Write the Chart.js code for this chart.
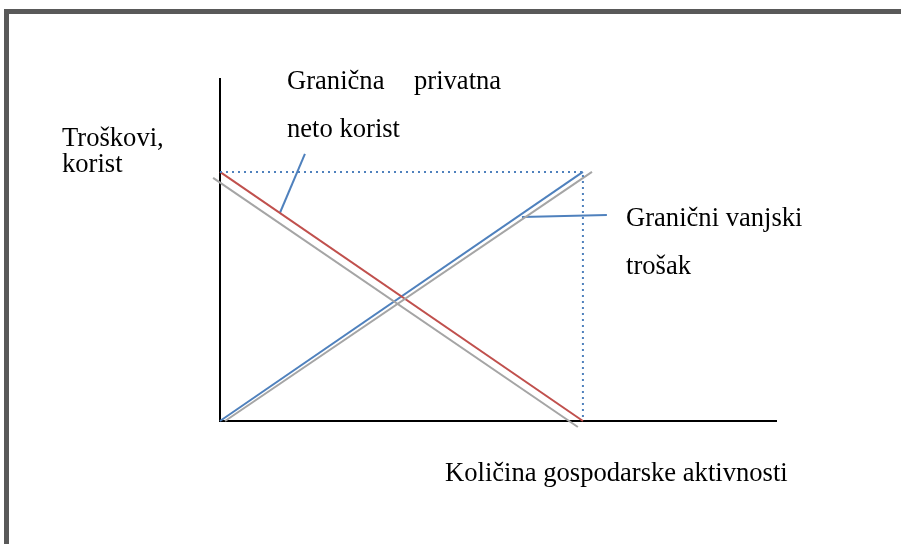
<!DOCTYPE html>
<html lang="hr">
<head>
    <meta charset="UTF-8">
    <title>Granični troškovi i korist</title>
    <script src="https://cdn.jsdelivr.net/npm/chart.js"></script>
    <style>
        body {
            margin: 0;
            width: 901px;
            height: 544px;
            overflow: hidden;
            background: #fff;
            position: relative;
        }

        .frame {
            position: absolute;
            left: 4px;
            top: 9px;
            width: 1000px;
            height: 1000px;
            border-left: 5px solid #595959;
            border-top: 5px solid #595959;
        }

        canvas {
            position: absolute;
            left: 0;
            top: 0;
        }

        .lbl {
            position: absolute;
            font-family: "Liberation Serif", "Times New Roman", serif;
            font-size: 26.6px;
            color: #000;
            white-space: nowrap;
            line-height: 1;
        }
    </style>
</head>
<body>
    <div class="frame"></div>
    <canvas id="myChart" width="901" height="544"></canvas>

    <div class="lbl" style="left:62px; top:124px;">Troškovi,</div>
    <div class="lbl" style="left:62px; top:150px;">korist</div>
    <div class="lbl" style="left:287px; top:67px;">Granična</div>
    <div class="lbl" style="left:414px; top:67px;">privatna</div>
    <div class="lbl" style="left:287px; top:115px;">neto korist</div>
    <div class="lbl" style="left:626px; top:204px;">Granični vanjski</div>
    <div class="lbl" style="left:626px; top:252px;">trošak</div>
    <div class="lbl" style="left:445px; top:459px;">Količina gospodarske aktivnosti</div>

    <script>
        // krivulje (x = količina, y = troškovi/korist)
        const korist = [{x: 0, y: 10}, {x: 10, y: 0}];
        const vanjskiTrosak = [{x: 0, y: 0}, {x: 10, y: 10}];
        const koristSiva = [{x: -0.19, y: 9.76}, {x: 9.86, y: -0.24}];
        const trosakSivi = [{x: 0.14, y: 0}, {x: 10.25, y: 10}];
        const okvir = [{x: 0, y: 10}, {x: 10, y: 10}, {x: 10, y: 0}];
        const strelica1 = [{x: 1.65, y: 8.35}, {x: 2.34, y: 10.72}];
        const strelica2 = [{x: 8.32, y: 8.19}, {x: 10.66, y: 8.27}];

        const plava = '#4F81BD';
        const crvena = '#C0504D';
        const siva = '#A5A5A5';

        function linija(data, color, extra) {
            return Object.assign({
                data: data,
                showLine: true,
                borderColor: color,
                borderWidth: 2,
                pointRadius: 0,
                fill: false,
                clip: false
            }, extra || {});
        }

        const ctx = document.getElementById('myChart').getContext('2d');
        new Chart(ctx, {
            type: 'scatter',
            data: {
                datasets: [
                    linija(okvir, plava, {borderDash: [2, 4]}),
                    linija(koristSiva, siva),
                    linija(trosakSivi, siva),
                    linija(korist, crvena),
                    linija(vanjskiTrosak, plava),
                    linija(strelica1, plava),
                    linija(strelica2, plava)
                ]
            },
            options: {
                responsive: false,
                animation: false,
                layout: {
                    padding: {left: 220, right: 125, top: 79, bottom: 123}
                },
                plugins: {
                    legend: {display: false},
                    tooltip: {enabled: false}
                },
                scales: {
                    x: {
                        type: 'linear',
                        min: 0,
                        max: 15.32,
                        ticks: {display: false},
                        grid: {display: false},
                        border: {display: true, color: '#000', width: 2},
                        afterFit: (s) => { s.height = 0; }
                    },
                    y: {
                        type: 'linear',
                        min: 0,
                        max: 13.73,
                        ticks: {display: false},
                        grid: {display: false},
                        border: {display: true, color: '#000', width: 2},
                        afterFit: (s) => { s.width = 0; }
                    }
                }
            }
        });
    </script>
</body>
</html>
